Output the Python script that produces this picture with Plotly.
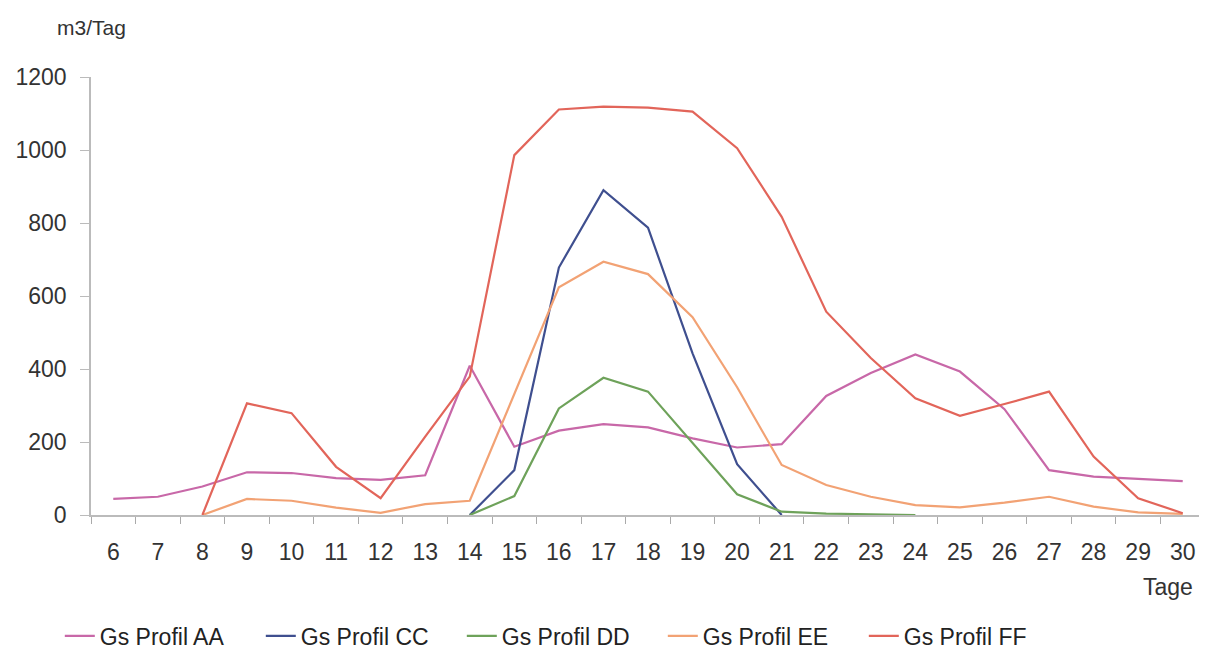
import plotly.graph_objects as go

days = list(range(6, 31))
series_names = ["Gs Profil AA", "Gs Profil CC", "Gs Profil DD", "Gs Profil EE", "Gs Profil FF"]

aa = [44, 50, 78, 117, 115, 101, 96, 109, 409, 187, 231, 249, 240, 210, 185, 194, 326, 389, 440, 393, 290, 123, 105, 98, 93]
cc = [None]*8 + [0, 123, 678, 890, 787, 443, 139, 0] + [None]*9
dd = [None]*8 + [0, 52, 292, 376, 338, 196, 57, 9, 4, 2, 0] + [None]*6
ee = [None, None, 0, 44, 39, 20, 6, 30, 39, 330, 624, 694, 660, 542, 350, 137, 82, 50, 27, 21, 34, 50, 23, 7, 3]
ff = [None, None, 0, 306, 279, 132, 46, 215, 379, 986, 1111, 1119, 1116, 1105, 1005, 817, 557, 430, 320, 272, 304, 338, 160, 46, 5]

colors = ["#C868A8", "#3F4F8F", "#6EA25A", "#F2A274", "#E2655A"]
all_series = [aa, cc, dd, ee, ff]

y_ticks = [0, 200, 400, 600, 800, 1000, 1200]

fig = go.Figure()
for name, vals, col in zip(series_names, all_series, colors):
    fig.add_trace(go.Scatter(x=days, y=vals, mode="lines", name=name,
                             line=dict(color=col, width=2.2), connectgaps=False))

font_family = "Liberation Sans, Arial, sans-serif"
fig.update_layout(
    width=1199, height=642,
    margin=dict(l=83, r=2, t=69, b=135, autoexpand=False),
    paper_bgcolor="white", plot_bgcolor="white",
    font=dict(family=font_family, size=23, color="#333333"),
    showlegend=True,
    legend=dict(orientation="h", x=-0.028, xanchor="left", y=-0.276, yanchor="middle",
                yref="paper", font=dict(size=23, color="#222222"),
                entrywidth=156, entrywidthmode="pixels",
                traceorder="normal"),
    xaxis=dict(range=[5.5, 30.5], tickvals=days, ticktext=[str(d) for d in days],
               ticks="outside", ticklen=16, tickcolor="rgba(0,0,0,0)",
               showgrid=False, zeroline=False, showline=True, linecolor="#BBBBBB", linewidth=1.5,
               minor=dict(tick0=5.5, dtick=1, ticks="outside", ticklen=7, tickcolor="#AAAAAA", showgrid=False),
               tickfont=dict(size=23), automargin=False),
    yaxis=dict(range=[0, 1200], tickvals=y_ticks, ticks="outside", ticklen=9, tickcolor="#BBBBBB",
               showgrid=False, zeroline=False, showline=True, linecolor="#BBBBBB", linewidth=1.5,
               ticklabelstandoff=9, tickfont=dict(size=23), automargin=False),
    annotations=[
        dict(text="m3/Tag", xref="paper", yref="paper", x=-0.032, y=1.114, xanchor="left", yanchor="middle",
             showarrow=False, font=dict(size=21, color="#333333")),
        dict(text="Tage", xref="paper", yref="paper", x=0.991, y=-0.164, xanchor="right", yanchor="middle",
             showarrow=False, font=dict(size=23, color="#333333")),
    ],
)

fig.write_html("out.html")
